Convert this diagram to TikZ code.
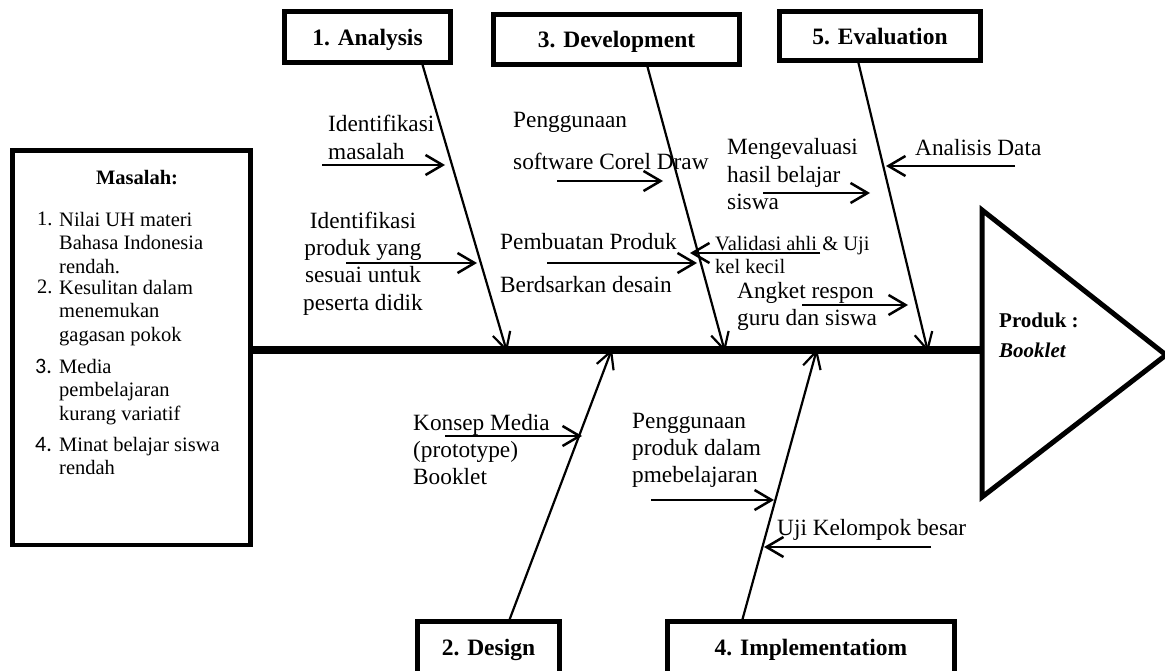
\documentclass[tikz,border=0pt]{standalone}
\usepackage{fontspec}
\setmainfont{Liberation Serif}
\newfontfamily\calfont{Carlito}
\usetikzlibrary{arrows.meta}
\begin{document}
\begin{tikzpicture}[x=1pt,y=-1pt,
  txt/.style={font=\fontsize{23.3}{27.3}\selectfont, inner sep=0pt, anchor=base west, align=left},
  smalltxt/.style={font=\fontsize{20.5}{23.5}\selectfont, inner sep=0pt, anchor=base west, align=left},
  numtxt/.style={font=\calfont\fontsize{22}{24}\selectfont, inner sep=0pt, anchor=base west},
  titlebox/.style={draw, line width=5pt, font=\bfseries\fontsize{23.5}{27}\selectfont, inner sep=0pt, text height=17pt, text depth=0pt},
  bottombox/.style={titlebox, text height=16pt, text depth=6pt, minimum height=57pt},
  bone/.style={line width=2.2pt, -{Straight Barb[length=17pt,width=18pt]}},
  subarrow/.style={line width=2.5pt, -{Straight Barb[length=17pt,width=20pt]}},
]
\useasboundingbox (0,0) rectangle (1165,671);
\fill[white] (0,0) rectangle (1165,671);

% ---- boxes ----
\node[titlebox, minimum width=166pt, minimum height=51pt] (ana) at (367.5,37) {1. Analysis};
\node[titlebox, minimum width=246pt, minimum height=50pt] (dev) at (616.5,39.5) {3. Development};
\node[titlebox, minimum width=201pt, minimum height=49pt] (eva) at (880,36) {5. Evaluation};
\node[bottombox, minimum width=142pt] (des) at (488.5,650) {2. Design};
\node[bottombox, minimum width=287pt] (imp) at (811,650) {4. Implementatiom};
\node[draw, line width=4.5pt, minimum width=238pt, minimum height=394.5pt, inner sep=0pt] (prob) at (131.5,347.75) {};

% ---- spine and head ----
\coordinate (spL) at (250.5,350);
\coordinate (spR) at (982,350);
\draw[line width=8pt] (spL) -- (spR);
\coordinate (t1) at (982,210);
\coordinate (t2) at (1166,355);
\coordinate (t3) at (982,497);
\draw[line width=5pt] (t1) -- (t2) -- (t3) -- cycle;
\node[font=\bfseries\fontsize{21}{30}\selectfont, inner sep=0pt, anchor=base west, align=left] (prod) at (999,357) {Produk :\\\textit{Booklet}};

% ---- bones ----
\coordinate (aB) at (422,63);  \coordinate (aT) at (507,352);
\coordinate (dB) at (647,65);  \coordinate (dT) at (725,352);
\coordinate (eB) at (858,61);  \coordinate (eT) at (928,352);
\coordinate (gB) at (509,621); \coordinate (gT) at (612,349);
\coordinate (iB) at (742,621); \coordinate (iT) at (817,349);
\draw[bone] (aB) -- (aT);
\draw[bone] (dB) -- (dT);
\draw[bone] (eB) -- (eT);
\draw[bone] (gB) -- (gT);
\draw[bone] (iB) -- (iT);

% ---- sub arrows ----
\coordinate (s1a) at (322,165); \coordinate (s1b) at (445,165);
\coordinate (s2a) at (346,263); \coordinate (s2b) at (477,263);
\coordinate (s3a) at (557,181); \coordinate (s3b) at (663,181);
\coordinate (s4a) at (547,263); \coordinate (s4b) at (697,263);
\coordinate (s5a) at (820,253); \coordinate (s5b) at (690,253);
\coordinate (s6a) at (763,193); \coordinate (s6b) at (870,193);
\coordinate (s7a) at (1015,166); \coordinate (s7b) at (886,166);
\coordinate (s8a) at (802,305); \coordinate (s8b) at (908,305);
\coordinate (s9a) at (445,436); \coordinate (s9b) at (582,436);
\coordinate (s10a) at (651,500); \coordinate (s10b) at (774,500);
\coordinate (s11a) at (931,547); \coordinate (s11b) at (764,547);
\foreach \i in {1,...,11} {\draw[subarrow] (s\i a) -- (s\i b);}

% ---- labels (y = baseline of the last line) ----
\node[txt] (l1) at (328,159.3) {Identifikasi\\masalah};
\node[txt, anchor=base, align=center] (l2) at (363,310) {Identifikasi\\produk yang\\sesuai untuk\\peserta didik};
\node[txt] (l3a) at (513,128) {Penggunaan};
\node[txt] (l3b) at (513,170) {software Corel Draw};
\node[txt] (l4a) at (500,250) {Pembuatan Produk};
\node[txt] (l4b) at (500,292) {Berdsarkan desain};
\node[smalltxt] (l5) at (715,273.5) {Validasi ahli \& Uji\\kel kecil};
\node[txt] (l6) at (727,209.6) {Mengevaluasi\\hasil belajar\\siswa};
\node[txt] (l7) at (915,156) {Analisis Data};
\node[txt] (l8) at (737,325.3) {Angket respon\\guru dan siswa};
\node[txt] (l9) at (413,484.6) {Konsep Media\\(prototype)\\Booklet};
\node[txt] (l10) at (632,482.6) {Penggunaan\\produk dalam\\pmebelajaran};
\node[txt] (l11) at (777,535) {Uji Kelompok besar};

% ---- problem box text ----
\node[font=\bfseries\fontsize{20.5}{23.5}\selectfont, inner sep=0pt, anchor=base] (mas) at (137,185) {Masalah:};
\node[smalltxt] (n1) at (37,226) {1.};
\node[smalltxt] (i1) at (59,273) {Nilai UH materi\\Bahasa Indonesia\\rendah.};
\node[smalltxt] (n2) at (37,294) {2.};
\node[smalltxt] (i2) at (59,341) {Kesulitan dalam\\menemukan\\gagasan pokok};
\node[numtxt] (n3) at (35,373) {3.};
\node[smalltxt] (i3) at (59,420) {Media\\pembelajaran\\kurang variatif};
\node[numtxt] (n4) at (35,451) {4.};
\node[smalltxt] (i4) at (59,474.5) {Minat belajar siswa\\rendah};
\end{tikzpicture}
\end{document}
